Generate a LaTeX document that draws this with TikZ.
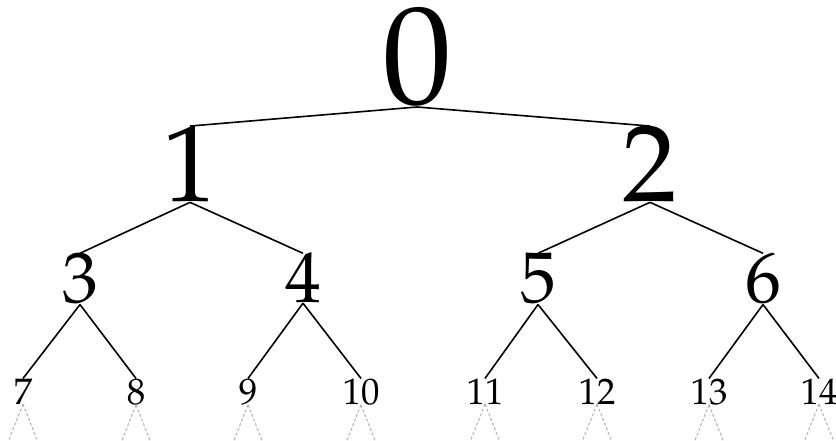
\documentclass[tikz,border=0pt]{standalone}
\usepackage[T1]{fontenc}
\usepackage{mathpazo}
\usetikzlibrary{arrows.meta}

\begin{document}
\begin{tikzpicture}[x=1bp, y=-1bp, line width=1.6bp,
    num/.style={inner sep=0pt, outer sep=0pt, anchor=base},
    lvlzero/.style={num, font=\fontsize{140}{140}\selectfont},
    lvlone/.style={num, font=\fontsize{110}{110}\selectfont},
    lvltwo/.style={num, font=\fontsize{72}{72}\selectfont},
    lvlthree/.style={num, font=\fontsize{37}{37}\selectfont},
    stub/.style={gray!60, line width=1bp, dash pattern=on 3bp off 2bp}]
    \useasboundingbox (0,0) rectangle (836,441);

    % Wurzel
    \node[lvlzero] (n0) at (417,104) {0};

    % Ebene 1
    \node[lvlone] (n1) at (190,202) {1};
    \node[lvlone] (n2) at (650,202) {2};

    % Ebene 2
    \node[lvltwo] (n3) at (80,303) {3};
    \node[lvltwo] (n4) at (303,303) {4};
    \node[lvltwo] (n5) at (538,303) {5};
    \node[lvltwo] (n6) at (763,303) {6};

    % Blaetter
    \node[lvlthree] (n7) at (23,404) {7};
    \node[lvlthree] (n8) at (136,404) {8};
    \node[lvlthree] (n9) at (248,404) {9};
    \node[lvlthree] (n10) at (361,404) {10};
    \node[lvlthree] (n11) at (485,404) {11};
    \node[lvlthree] (n12) at (597,404) {12};
    \node[lvlthree] (n13) at (709,404) {13};
    \node[lvlthree] (n14) at (819,404) {14};

    % Kanten
    \draw (n0.south) -- (n1.north);
    \draw (n0.south) -- (n2.north);
    \draw (n1.south) -- (n3.north);
    \draw (n1.south) -- (n4.north);
    \draw (n2.south) -- (n5.north);
    \draw (n2.south) -- (n6.north);
    \draw (n3.south) -- (n7.north);
    \draw (n3.south) -- (n8.north);
    \draw (n4.south) -- (n9.north);
    \draw (n4.south) -- (n10.north);
    \draw (n5.south) -- (n11.north);
    \draw (n5.south) -- (n12.north);
    \draw (n6.south) -- (n13.north);
    \draw (n6.south) -- (n14.north);

    % angedeutete Teilbaeume
    \foreach \i in {7,...,14} {
        \draw[stub] (n\i.south) -- ++(-15,38);
        \draw[stub] (n\i.south) -- ++(15,38);
    }
\end{tikzpicture}
\end{document}
